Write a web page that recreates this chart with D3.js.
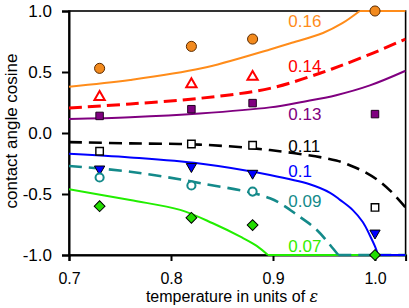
<!DOCTYPE html>
<html>
<head>
<meta charset="utf-8">
<script src="https://cdn.jsdelivr.net/npm/d3@7"></script>
<style>
  body { margin: 0; background: #fff; }
  svg { display: block; font-family: "Liberation Sans", Arial, sans-serif; }
</style>
</head>
<body>
<div id="chart"></div>
<script>
// theory curves, [temperature, cos]
var c016 = [[0.70,0.38],[0.76,0.435],[0.83,0.53],[0.897,0.685],[0.917,0.735],[0.949,0.82],[0.968,0.90],[0.985,1.0],[1.03,1.0]];
var c014 = [[0.70,0.205],[0.76,0.238],[0.828,0.284],[0.897,0.366],[0.946,0.49],[0.966,0.55],[0.998,0.655],[1.03,0.77]];
var c013 = [[0.70,0.115],[0.76,0.13],[0.828,0.16],[0.897,0.21],[0.93,0.257],[0.962,0.31],[0.995,0.39],[1.03,0.51]];
var c011 = [[0.70,-0.075],[0.76,-0.085],[0.828,-0.095],[0.897,-0.14],[0.962,-0.225],[0.977,-0.27],[0.99,-0.32],[1.005,-0.40],[1.017,-0.49],[1.03,-0.61]];
var c010 = [[0.70,-0.17],[0.76,-0.20],[0.828,-0.25],[0.897,-0.344],[0.936,-0.42],[0.956,-0.49],[0.966,-0.55],[0.978,-0.63],[0.988,-0.73],[0.995,-0.84],[1.0,-0.93],[1.003,-1.0],[1.03,-1.0]];
var c009 = [[0.70,-0.27],[0.76,-0.317],[0.828,-0.41],[0.897,-0.535],[0.926,-0.686],[0.943,-0.795],[0.956,-0.918],[0.964,-1.0],[1.03,-1.0]];
var c007 = [[0.70,-0.46],[0.76,-0.55],[0.809,-0.63],[0.841,-0.74],[0.868,-0.85],[0.884,-0.925],[0.895,-1.0],[1.03,-1.0]];

// simulation points
var simT = [0.73, 0.82, 0.88, 1.0];
var p016 = [0.53, 0.71, 0.77, 1.0];
var p014 = [0.295, 0.40, 0.46];
var p013 = [0.14, 0.195, 0.245, 0.155];
var p011 = [-0.15, -0.09, -0.10, -0.61];
var p010 = [-0.295, -0.275, -0.33, -0.82];
var p009 = [-0.365, -0.43, -0.48];
var p007 = [-0.60, -0.695, -0.755, -1.0];

var curveNames = ["0.07", "0.09", "0.1", "0.11", "0.13", "0.14", "0.16"];
var labelCos = [-0.975, -0.607, -0.361, -0.156, 0.107, 0.5, 0.869];
var xTicks = [0.7, 0.8, 0.9, 1.0];
var yTicks = [-1.0, -0.5, 0.0, 0.5, 1.0];

var W = 409, H = 308;
var x = d3.scaleLinear().domain([0.7, 1.03]).range([69, 405.6]);
var y = d3.scaleLinear().domain([-1, 1]).range([255, 11]);

var svg = d3.select("#chart").append("svg").attr("width", W).attr("height", H);

// frame
svg.append("rect")
  .attr("x", x(0.7)).attr("y", y(1))
  .attr("width", x(1.03) - x(0.7)).attr("height", y(-1) - y(1))
  .attr("fill", "none").attr("stroke", "#000").attr("stroke-width", 1.6);

var fmt = function(d) { return d3.format(".1f")(d).replace("−", "-"); };
var xAxis = svg.append("g").attr("transform", "translate(0," + y(-1) + ")")
  .call(d3.axisBottom(x).tickValues(xTicks).tickSize(6).tickPadding(11.5).tickFormat(fmt));
var yAxis = svg.append("g").attr("transform", "translate(" + x(0.7) + ",0)")
  .call(d3.axisLeft(y).tickValues(yTicks).tickSize(7).tickPadding(10).tickFormat(fmt));
[xAxis, yAxis].forEach(function(g) {
  g.select(".domain").attr("stroke-width", 2);
  g.selectAll(".tick line").attr("stroke-width", 2);
  g.selectAll("text").attr("font-size", 17).attr("fill", "#000")
    .attr("font-family", "Liberation Sans, Arial, sans-serif");
});
xAxis.selectAll("text").attr("font-size", 16);

svg.append("text")
  .attr("transform", "translate(17," + (y(0) - 2) + ") rotate(-90)")
  .attr("text-anchor", "middle").attr("font-size", 17)
  .text("contact angle cosine");
var xt = svg.append("text")
  .attr("x", 232).attr("y", 302)
  .attr("text-anchor", "middle").attr("font-size", 16);
xt.append("tspan").text("temperature in units of ");
xt.append("tspan").attr("font-style", "italic").attr("font-family", "DejaVu Serif, serif").text("ε");

svg.append("clipPath").attr("id", "clip").append("rect")
  .attr("x", x(0.7)).attr("y", y(1) - 2)
  .attr("width", x(1.03) - x(0.7)).attr("height", y(-1) - y(1) + 4);

var smooth = d3.line()
  .x(function(d) { return x(d[0]); })
  .y(function(d) { return y(d[1]); })
  .curve(d3.curveCatmullRom.alpha(0.5));
var straight = d3.line()
  .x(function(d) { return x(d[0]); })
  .y(function(d) { return y(d[1]); });

var curves = [
  { data: c007, color: "#22ee00", w: 2, dash: null },
  { data: c009, color: "#148a8a", w: 2.6, dash: "13,7" },
  { data: c010, color: "#0000ff", w: 2, dash: null },
  { data: c011, color: "#000000", w: 2.6, dash: "13,7" },
  { data: c013, color: "#800080", w: 2, dash: null },
  { data: c014, color: "#ff0000", w: 3, dash: "13,6" },
  { data: c016, color: "#ff8c1a", w: 2, dash: null }
];

var cg = svg.append("g").attr("clip-path", "url(#clip)");
curves.forEach(function(c) {
  // the curve is clamped at cos = ±1: smooth part, then a flat run
  var k = c.data.findIndex(function(d) { return Math.abs(d[1]) >= 1; });
  var bent = k < 0 ? c.data : c.data.slice(0, k + 1);
  var flat = k < 0 ? [] : c.data.slice(k);
  [[bent, smooth], [flat, straight]].forEach(function(part) {
    if (part[0].length < 2) return;
    cg.append("path").datum(part[0])
      .attr("d", part[1])
      .attr("fill", "none")
      .attr("stroke", c.color)
      .attr("stroke-width", c.w)
      .attr("stroke-dasharray", c.dash);
  });
});

svg.append("g").selectAll("text").data(curveNames).enter().append("text")
  .attr("x", x(0.915))
  .attr("y", function(d, i) { return y(labelCos[i]); })
  .attr("font-size", 17)
  .attr("fill", function(d, i) { return i === 0 ? "#33ee00" : curves[i].color; })
  .text(function(d) { return d; });

var series = [
  { vals: p016, type: d3.symbolCircle, size: 80, fill: "#f28a1e", stroke: "#5a2a00", sw: 1, rot: 0 },
  { vals: p014, type: d3.symbolTriangle, size: 46, fill: "#fff", stroke: "#ff0000", sw: 2, rot: 0 },
  { vals: p013, type: d3.symbolSquare, size: 56, fill: "#800080", stroke: "#200020", sw: 1, rot: 0 },
  { vals: p011, type: d3.symbolSquare, size: 56, fill: "#fff", stroke: "#000", sw: 1.4, rot: 0 },
  { vals: p010, type: d3.symbolTriangle, size: 46, fill: "#0000ff", stroke: "#000", sw: 1, rot: 180 },
  { vals: p009, type: d3.symbolCircle, size: 52, fill: "#fff", stroke: "#148a8a", sw: 2, rot: 0 },
  { vals: p007, type: d3.symbolSquare, size: 58, fill: "#22dd00", stroke: "#000", sw: 1, rot: 45 }
];

series.forEach(function(s) {
  svg.append("g").selectAll("path").data(s.vals).enter().append("path")
    .attr("transform", function(d, i) {
      return "translate(" + x(simT[i]) + "," + y(d) + ") rotate(" + s.rot + ")";
    })
    .attr("d", d3.symbol().type(s.type).size(s.size))
    .attr("fill", s.fill)
    .attr("stroke", s.stroke)
    .attr("stroke-width", s.sw);
});
</script>
</body>
</html>
